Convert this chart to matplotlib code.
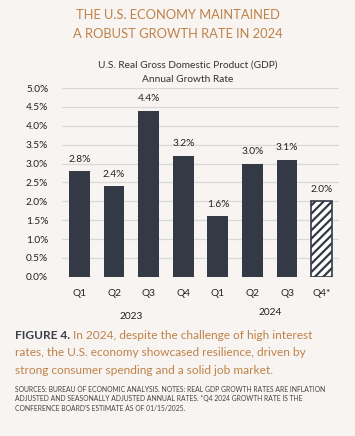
import numpy as np
import matplotlib.pyplot as plt
from matplotlib.ticker import FuncFormatter

quarters = ['Q1', 'Q2', 'Q3', 'Q4', 'Q1', 'Q2', 'Q3', 'Q4*']
growth = [2.8, 2.4, 4.4, 3.2, 1.6, 3.0, 3.1, 2.0]
estimate = [False, False, False, False, False, False, False, True]
years = ['2023', '2024']

bg = '#f7f4f1'
navy = '#333945'
orange = '#c0824a'

plt.rcParams['font.family'] = ['Lato', 'DejaVu Sans']
plt.rcParams['hatch.linewidth'] = 1.6
plt.rcParams['hatch.color'] = navy

fig = plt.figure(figsize=(3.55, 4.36), dpi=100, facecolor=bg)
ax = fig.add_axes([0.175, 0.365, 0.78, 0.433])
ax.set_facecolor(bg)

x = np.arange(len(growth))
for i in range(len(growth)):
    if estimate[i]:
        ax.bar(x[i], growth[i], 0.6, color='white', edgecolor=navy,
               hatch='////', linewidth=1.2, zorder=3)
    else:
        ax.bar(x[i], growth[i], 0.6, color=navy, zorder=3)
    ax.text(x[i], growth[i] + 0.2, '%.1f%%' % growth[i], ha='center',
            va='bottom', fontsize=7.3, color='#222222')

ax.set_xlim(-0.5, len(growth) - 0.5)
ax.set_ylim(0, 5)
ax.set_yticks(np.arange(0, 5.01, 0.5))
ax.yaxis.set_major_formatter(FuncFormatter(lambda v, p: '%.1f%%' % v))
ax.set_xticks(x)
ax.set_xticklabels(quarters)
ax.tick_params(length=0, labelsize=7.3, colors='#222222')
ax.tick_params(axis='y', pad=10)
ax.tick_params(axis='x', pad=9)
ax.grid(axis='y', color='#d9d9d9', linewidth=0.9, zorder=0)
for s in ax.spines.values():
    s.set_visible(False)

# year labels under each group of quarters
ax.text(1.5, -0.21, years[0], transform=ax.get_xaxis_transform(),
        ha='center', va='center', fontsize=7.3, color='#222222')
ax.text(5.5, -0.19, years[1], transform=ax.get_xaxis_transform(),
        ha='center', va='center', fontsize=7.3, color='#222222')

fig.text(0.5, 0.965, 'THE U.S. ECONOMY MAINTAINED', ha='center', va='center',
         fontsize=9.3, color=orange)
fig.text(0.5, 0.921, 'A ROBUST GROWTH RATE IN 2024', ha='center', va='center',
         fontsize=9.3, color=orange)
fig.text(0.53, 0.851, 'U.S. Real Gross Domestic Product (GDP)', ha='center',
         va='center', fontsize=7.3, color='#333333')
fig.text(0.53, 0.818, 'Annual Growth Rate', ha='center', va='center',
         fontsize=7.3, color='#333333')

# caption: bold label followed by orange text
t = fig.text(0.042, 0.218, 'FIGURE 4.', fontsize=8.6, fontweight='bold',
             color='#3a3f4a', va='bottom')
ax.annotate(' In 2024, despite the challenge of high interest', xy=(1, 0),
            xycoords=t, va='bottom', ha='left', fontsize=8.6, color=orange,
            annotation_clip=False)
fig.text(0.042, 0.178, 'rates, the U.S. economy showcased resilience, driven by',
         fontsize=8.6, color=orange, va='bottom')
fig.text(0.042, 0.138, 'strong consumer spending and a solid job market.',
         fontsize=8.6, color=orange, va='bottom')

notes = ('SOURCES: BUREAU OF ECONOMIC ANALYSIS. NOTES: REAL GDP GROWTH RATES ARE INFLATION\n'
         'ADJUSTED AND SEASONALLY ADJUSTED ANNUAL RATES. *Q4 2024 GROWTH RATE IS THE\n'
         "CONFERENCE BOARD'S ESTIMATE AS OF 01/15/2025.")
fig.text(0.042, 0.085, notes, fontsize=4.9, color='#444444', va='center',
         linespacing=1.45)

fig.savefig('out.png', dpi=100, facecolor=bg)
